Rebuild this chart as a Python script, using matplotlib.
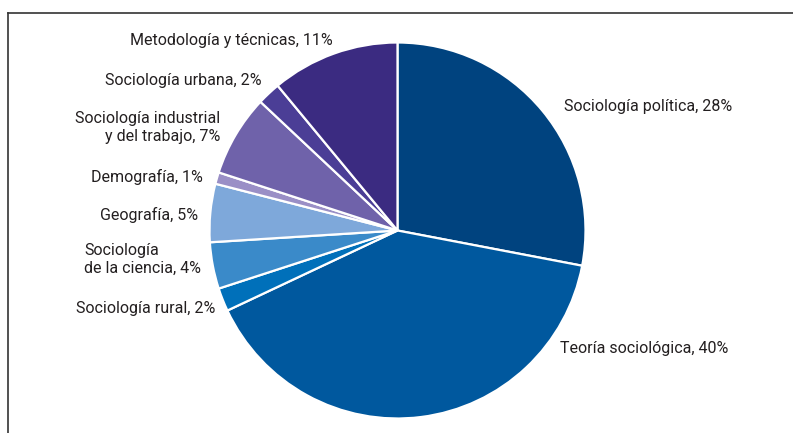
import matplotlib.pyplot as plt
from matplotlib.lines import Line2D

## Data
labels = ['Sociología política, 28%', 'Teoría sociológica, 40%', 'Sociología rural, 2%',
          'Sociología\nde la ciencia, 4%', 'Geografía, 5%', 'Demografía, 1%',
          'Sociología industrial\ny del trabajo, 7%', 'Sociología urbana, 2%',
          'Metodología y técnicas, 11%']
values = [28, 40, 2, 4, 5, 1, 7, 2, 11]
colors = ['#00437f', '#00589e', '#0070ba', '#3a8ac9', '#7ea8da',
          '#9a8fc6', '#6f62aa', '#4b3e96', '#3b2b81']

## label layout (pixel coords, origin bottom-left), alignment
label_pos = [(564, 327), (560, 84), (215, 124), (84, 174), (198, 218),
             (203, 256), (220, 306), (262, 352), (333, 392)]
label_ha = ['left', 'left', 'right', 'left', 'right', 'right', 'right', 'right', 'right']
label_ma = ['left', 'left', 'right', 'left', 'right', 'right', 'right', 'right', 'right']

plt.rcParams['font.family'] = ['Liberation Sans Narrow', 'Roboto', 'DejaVu Sans']

fig = plt.figure(figsize=(7.93, 4.33), dpi=100)
ax = fig.add_axes([0, 0, 1, 1])
ax.set_xlim(0, 793)
ax.set_ylim(0, 433)
ax.set_aspect('equal')
ax.axis('off')

ax.pie(values, colors=colors, startangle=90, counterclock=False,
       center=(397.5, 202.5), radius=188, frame=True,
       wedgeprops=dict(edgecolor='white', linewidth=1.6))
ax.set_xlim(0, 793)
ax.set_ylim(0, 433)
ax.axis('off')

for lab, (x, y), ha, ma in zip(labels, label_pos, label_ha, label_ma):
    ax.text(x, y, lab, ha=ha, va='center', multialignment=ma,
            fontsize=11.5, color='#231f20', linespacing=1.25)

## frame: top and left lines
fig.add_artist(Line2D([7.5/793, 1], [1 - 12.5/433, 1 - 12.5/433],
                      transform=fig.transFigure, color='#333333', lw=1.2))
fig.add_artist(Line2D([7.5/793, 7.5/793], [0, 1 - 12.5/433],
                      transform=fig.transFigure, color='#333333', lw=1.2))

fig.savefig('out.png', dpi=100)
